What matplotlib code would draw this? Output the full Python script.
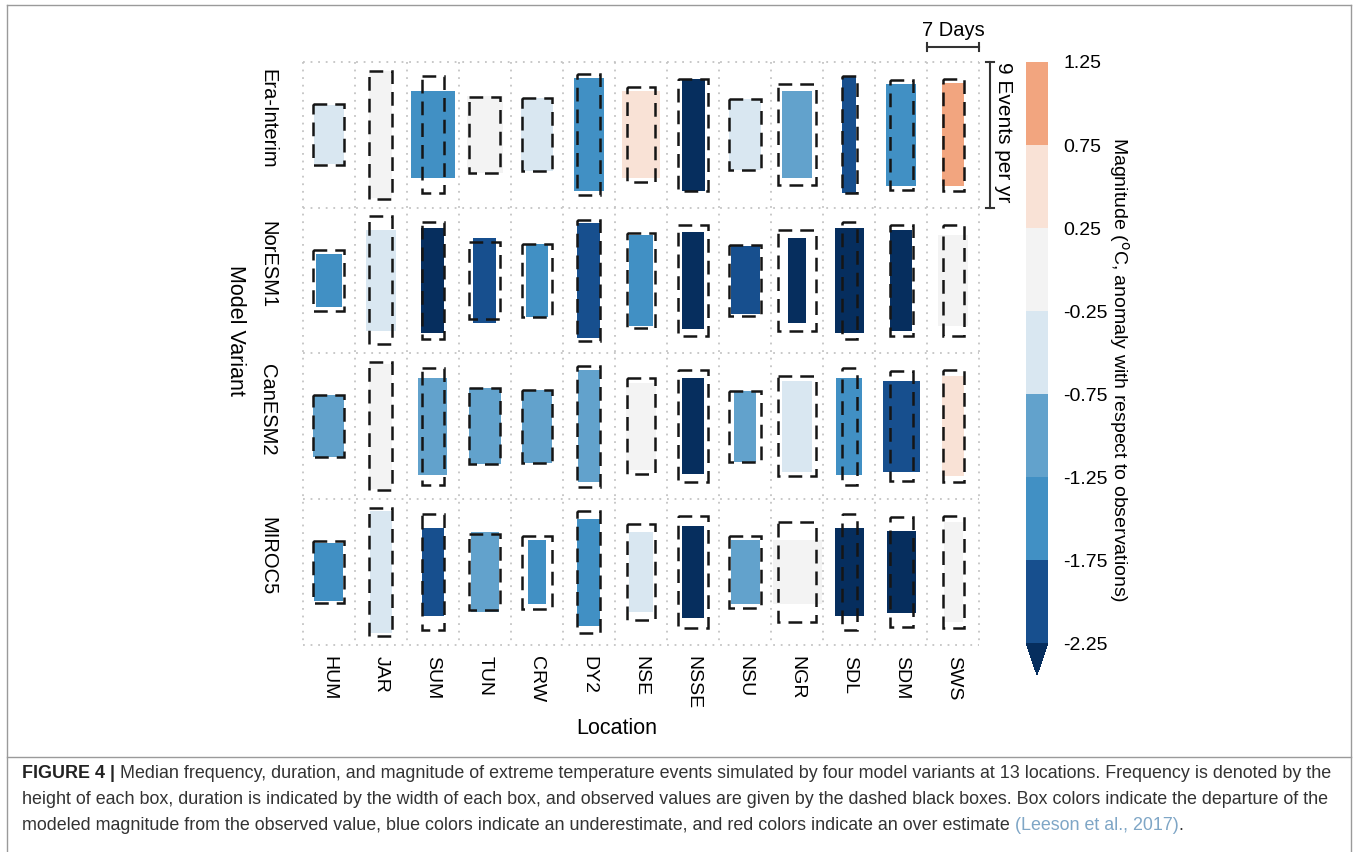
import matplotlib
matplotlib.use('Agg')
import matplotlib.pyplot as plt
from matplotlib.patches import Rectangle
from matplotlib.colors import ListedColormap, BoundaryNorm
from matplotlib.cm import ScalarMappable
import matplotlib.font_manager as fm

plt.rcParams['font.family'] = ['Liberation Sans', 'DejaVu Sans']
plt.rcParams['axes.unicode_minus'] = False

# ---------------- data ----------------
locations = ['HUM', 'JAR', 'SUM', 'TUN', 'CRW', 'DY2', 'NSE', 'NSSE', 'NSU',
             'NGR', 'SDL', 'SDM', 'SWS']
models = ['Era-Interim', 'NorESM1', 'CanESM2', 'MIROC5']

# observed (dashed boxes): duration in days, frequency in events per yr
obs_duration = [4.2, 3.1, 3.0, 4.2, 4.0, 3.1, 3.9, 4.0, 4.2, 5.1, 2.0, 3.1, 2.8]
obs_frequency = [3.8, 7.9, 7.2, 4.7, 4.5, 7.5, 5.9, 6.9, 4.4, 6.2, 7.2, 6.8, 6.9]

era_duration = [4.0, 3.1, 5.9, 4.8, 4.3, 4.0, 5.0, 3.1, 4.2, 4.0, 1.8, 4.0, 3.0]
era_frequency = [3.6, 7.8, 5.4, 4.8, 4.5, 7.0, 5.4, 6.9, 4.4, 5.4, 7.2, 6.3, 6.4]
era_magnitude = [-0.5, 0.0, -1.5, 0.0, -0.5, -1.5, 0.5, -2.5, -0.5, -1.0, -2.0, -1.5, 1.0]

nor_duration = [3.5, 4.0, 3.1, 3.1, 3.0, 3.1, 3.2, 3.0, 3.9, 2.4, 3.9, 3.0, 4.0]
nor_frequency = [3.3, 6.2, 6.5, 5.2, 4.5, 7.1, 5.6, 6.0, 4.2, 5.2, 6.5, 6.2, 5.6]
nor_magnitude = [-1.5, -0.5, -2.5, -2.0, -1.5, -2.0, -1.5, -2.5, -2.0, -2.5, -2.5, -2.5, 0.0]

can_duration = [4.2, 3.1, 3.9, 4.3, 4.0, 3.0, 4.0, 3.0, 3.0, 4.0, 3.5, 5.0, 3.0]
can_frequency = [3.8, 7.7, 6.0, 4.7, 4.5, 6.9, 5.4, 5.9, 4.4, 5.6, 6.0, 5.6, 6.2]
can_magnitude = [-1.0, 0.0, -1.0, -1.0, -1.0, -1.0, 0.0, -2.5, -1.0, -0.5, -1.5, -2.0, 0.5]

miroc_duration = [3.9, 3.0, 3.0, 3.8, 2.4, 3.1, 3.1, 3.0, 3.9, 6.6, 3.9, 3.9, 2.6]
miroc_frequency = [3.6, 7.5, 5.4, 4.9, 4.0, 6.6, 4.9, 5.7, 4.0, 3.9, 5.4, 5.1, 6.2]
miroc_magnitude = [-1.5, -0.5, -2.0, -1.0, -1.5, -1.5, -0.5, -2.5, -1.0, 0.0, -2.5, -2.5, 0.0]

cbar_bounds = [-2.25, -1.75, -1.25, -0.75, -0.25, 0.25, 0.75, 1.25]
cbar_labels = ['-2.25', '-1.75', '-1.25', '-0.75', '-0.25', '0.25', '0.75', '1.25']
class_colors = ['#174f8e', '#4190c4', '#62a2cc', '#d9e7f1', '#f3f3f3', '#f9e2d6', '#f2a57f']
under_color = '#062e5e'

CELL_W = 7   # days per column
CELL_H = 9   # events per yr per row

durations = [era_duration, nor_duration, can_duration, miroc_duration]
frequencies = [era_frequency, nor_frequency, can_frequency, miroc_frequency]
magnitudes = [era_magnitude, nor_magnitude, can_magnitude, miroc_magnitude]

# ---------------- figure ----------------
W, H = 1358, 852
fig = plt.figure(figsize=(W / 100, H / 100), dpi=100)


def fx(px):
    return px / W


def fy(py):
    return 1 - py / H


ax_l, ax_r, ax_t, ax_b = 302.7, 979.3, 61.7, 645.0
ax = fig.add_axes([fx(ax_l), fy(ax_b), fx(ax_r) - fx(ax_l), fy(ax_t) - fy(ax_b)])
ncol, nrow = len(locations), len(models)
ax.set_xlim(0, ncol * CELL_W)
ax.set_ylim(nrow * CELL_H, 0)
ax.axis('off')

cmap = ListedColormap(class_colors)
cmap.set_under(under_color)
norm = BoundaryNorm(cbar_bounds, cmap.N)

grid_kw = dict(color='#c4c4c4', lw=1.3, ls=(0, (1, 3.2)), clip_on=False, zorder=1)
for i in range(ncol + 1):
    ax.plot([i * CELL_W, i * CELL_W], [0, nrow * CELL_H], **grid_kw)
for j in range(nrow + 1):
    ax.plot([0, ncol * CELL_W], [j * CELL_H, j * CELL_H], **grid_kw)

for r in range(nrow):
    for c in range(ncol):
        cx = c * CELL_W + CELL_W / 2
        cy = r * CELL_H + CELL_H / 2
        d, f = durations[r][c], frequencies[r][c]
        ax.add_patch(Rectangle((cx - d / 2, cy - f / 2), d, f,
                               facecolor=cmap(norm(magnitudes[r][c])),
                               edgecolor='none', zorder=2))
        od, of = obs_duration[c], obs_frequency[c]
        ax.add_patch(Rectangle((cx - od / 2, cy - of / 2), od, of, fill=False,
                               edgecolor='#151515', lw=1.8, ls=(0, (5.5, 3.2)),
                               zorder=3))

# row labels
for r, m in enumerate(models):
    ax.text(-4.67, r * CELL_H + CELL_H / 2 - 1.0, m, rotation=270,
            ha='center', va='center', fontsize=14.5)
# column labels
for c, loc in enumerate(locations):
    ax.text(c * CELL_W + CELL_W / 2, nrow * CELL_H + 0.7, loc, rotation=270,
            ha='center', va='top', fontsize=14)

fig.text(fx(617), fy(728), 'Location', ha='center', va='center', fontsize=15.5)
fig.text(fx(236), fy(330), 'Model Variant', rotation=270, ha='center',
         va='center', fontsize=15.5)

# scale bars
sb_y = -0.91
ax.plot([(ncol - 1) * CELL_W, ncol * CELL_W], [sb_y, sb_y], color='#333333',
        lw=1.5, clip_on=False)
for xx in [(ncol - 1) * CELL_W, ncol * CELL_W]:
    ax.plot([xx, xx], [sb_y - 0.22, sb_y + 0.22], color='#333333', lw=1.5,
            clip_on=False)
ax.text((ncol - 0.5) * CELL_W, sb_y - 0.4, '%d Days' % CELL_W, ha='center',
        va='bottom', fontsize=14.5)

vx = ncol * CELL_W + 1.44
ax.plot([vx, vx], [0, CELL_H], color='#333333', lw=1.5, clip_on=False)
for yy in [0, CELL_H]:
    ax.plot([vx - 0.55, vx + 0.55], [yy, yy], color='#333333', lw=1.5,
            clip_on=False)
ax.text(vx + 1.8, 0.0, '%d Events per yr' % CELL_H, rotation=270,
        ha='center', va='top', fontsize=15)

# colorbar
cax = fig.add_axes([fx(1026), fy(675), 22 / W, fy(62) - fy(675)])
cb = fig.colorbar(ScalarMappable(norm=norm, cmap=cmap), cax=cax,
                  extend='min', extendfrac=0.055, ticks=cbar_bounds,
                  spacing='uniform')
cb.outline.set_visible(False)
cb.ax.set_yticklabels(cbar_labels)
cax.tick_params(length=0, labelsize=14, pad=11)
fig.text(fx(1119), fy(370),
         'Magnitude ($^{\\rm o}$C, anomaly with respect to observations)',
         rotation=270, ha='center', va='center', fontsize=14)

# frame and caption
frame_kw = dict(color='#9a9a9a', lw=1.0, transform=fig.transFigure)
fig.add_artist(plt.Line2D([fx(7), fx(7)], [fy(5), 0], **frame_kw))
fig.add_artist(plt.Line2D([fx(7), fx(1351)], [fy(5), fy(5)], **frame_kw))
fig.add_artist(plt.Line2D([fx(1351), fx(1351)], [fy(5), 0], **frame_kw))
fig.add_artist(plt.Line2D([fx(7), fx(1351)], [fy(757), fy(757)], **frame_kw))

caption = [
    [('FIGURE 4 |', 'bold', '#222222'),
     (' Median frequency, duration, and magnitude of extreme temperature events '
      'simulated by four model variants at 13 locations. Frequency is denoted by the',
      'normal', '#333333')],
    [('height of each box, duration is indicated by the width of each box, and observed '
      'values are given by the dashed black boxes. Box colors indicate the departure of the',
      'normal', '#333333')],
    [('modeled magnitude from the observed value, blue colors indicate an underestimate, '
      'and red colors indicate an over estimate ', 'normal', '#333333'),
     ('(Leeson et al., 2017)', 'normal', '#7fa6c6'),
     ('.', 'normal', '#333333')],
]

try:
    fm.findfont(fm.FontProperties(family='Liberation Sans Narrow'),
                fallback_to_default=False)
    cap_family = ['Liberation Sans Narrow', 'Liberation Sans']
except Exception:
    cap_family = ['Liberation Sans', 'DejaVu Sans']

renderer = fig.canvas.get_renderer()


def line_width(segs, size):
    tot = 0
    for s, wgt, col in segs:
        t = fig.text(0, 0, s, fontsize=size, fontweight=wgt, family=cap_family)
        tot += t.get_window_extent(renderer).width
        t.remove()
    return tot


target = 1336 - 22
base = 10.0
cap_size = base * target / line_width(caption[0], base)
cap_size = min(cap_size, 13.5)

line_y = [773, 800, 826]
for segs, ly in zip(caption, line_y):
    x = 22
    for s, wgt, col in segs:
        t = fig.text(fx(x), fy(ly), s, fontsize=cap_size, fontweight=wgt,
                     family=cap_family, color=col, ha='left', va='center')
        x += t.get_window_extent(renderer).width

fig.savefig('out.png', dpi=100)
